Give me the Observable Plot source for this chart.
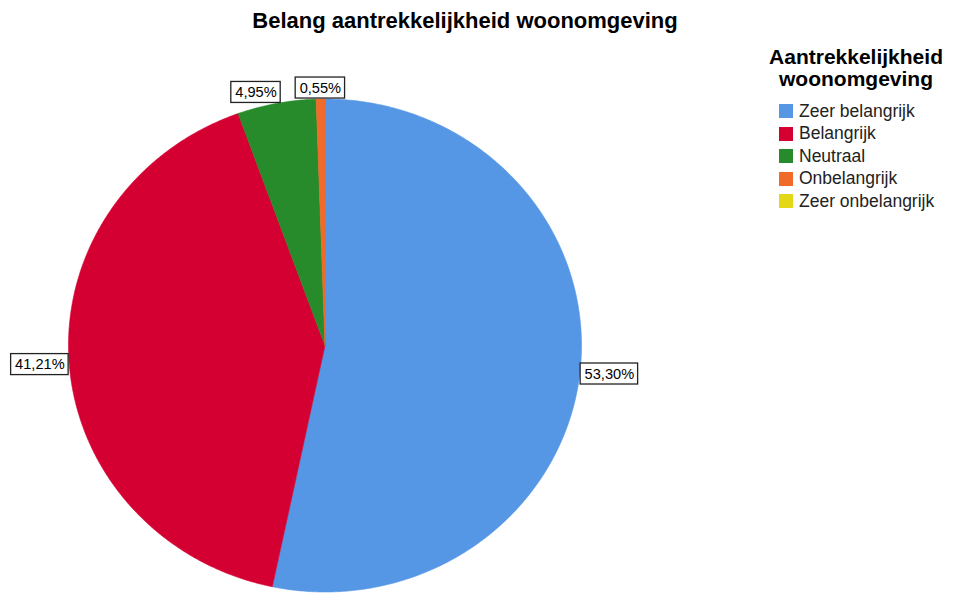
<!DOCTYPE html>
<html><head><meta charset="utf-8">
<script src="https://cdn.jsdelivr.net/npm/d3@7"></script>
<script src="https://cdn.jsdelivr.net/npm/@observablehq/plot@0.6"></script>
<style>
body{margin:0;background:#fff;font-family:"Liberation Sans",Arial,sans-serif;}
#wrap{position:relative;width:953px;height:594px;overflow:hidden;background:#fff;}
#wrap svg{position:absolute;left:0;top:0;}
#title{position:absolute;left:0;width:930px;top:9px;text-align:center;font-weight:bold;font-size:22px;line-height:24px;color:#000;}
#legtitle{position:absolute;left:756px;width:200px;top:46px;text-align:center;font-weight:bold;font-size:21px;line-height:21px;color:#000;}
#legtitle div{height:21px;line-height:21px;overflow:visible;}
#legtitle div + div{margin-top:1px;}
#legitems{position:absolute;left:779px;top:100px;}
.row{display:flex;align-items:center;height:22.5px;font-size:17.5px;color:#222;white-space:nowrap;}
.sw{width:14px;height:14px;margin-right:6px;flex-shrink:0;}
</style></head><body><div id="wrap"><div id="title"></div><div id="legtitle"></div><div id="legitems"></div></div><script>
const chartTitle = "Belang aantrekkelijkheid woonomgeving";
const legendTitle = ["Aantrekkelijkheid", "woonomgeving"];
const categories = ["Zeer belangrijk", "Belangrijk", "Neutraal", "Onbelangrijk", "Zeer onbelangrijk"];
const percentages = [53.30, 41.21, 4.95, 0.55, 0];
const colors = ["#5596e5", "#d50032", "#278a2b", "#f06a2a", "#e3d716"];

// layout of the pie (pixels)
const CX = 324.5, CY = 345, RX = 256.5, RY = 246.5;
const FONT = "'Liberation Sans', Arial, sans-serif";
const LFS = 14.6;
const total = d3.sum(percentages);

let cum = 0;
const slices = [];
categories.forEach((c, i) => {
  const v = percentages[i];
  const a0 = cum / total * 2 * Math.PI;
  cum += v;
  const a1 = cum / total * 2 * Math.PI;
  if (v > 0) slices.push({cat: c, value: v, a0, a1});
});

const pts = [];
for (const s of slices) {
  pts.push({cat: s.cat, x: 0, y: 0});
  const n = Math.max(2, Math.ceil((s.a1 - s.a0) / (Math.PI / 360)));
  for (let k = 0; k <= n; k++) {
    const a = s.a0 + (s.a1 - s.a0) * k / n;
    pts.push({cat: s.cat, x: Math.sin(a), y: Math.cos(a)});
  }
}

// labels
const ctx = document.createElement("canvas").getContext("2d");
ctx.font = LFS + "px " + FONT;
const fmt = v => v.toFixed(2).replace(".", ",") + "%";
const boxes = slices.map(s => {
  const a = (s.a0 + s.a1) / 2;
  const label = fmt(s.value);
  const w = ctx.measureText(label).width + 8, h = 21;
  const dx = Math.sin(a), dy = -Math.cos(a);
  const px = CX + RX * dx, py = CY + RY * dy;
  const t = Math.min(Math.abs(dx) > 1e-6 ? w / 2 / Math.abs(dx) : 1e9, Math.abs(dy) > 1e-6 ? h / 2 / Math.abs(dy) : 1e9) + 0.5;
  return {label, w, h, dirx: dx, cxp: px + dx * t, cyp: py + dy * t};
});
const placed = [];
for (let i = boxes.length - 1; i >= 0; i--) {
  const b = boxes[i];
  let moved = true, guard = 0;
  while (moved && guard++ < 10) {
    moved = false;
    for (const q of placed) {
      const ox = Math.abs(b.cxp - q.cxp) < (b.w + q.w) / 2;
      const oy = Math.abs(b.cyp - q.cyp) < (b.h + q.h) / 2;
      if (ox && oy) {
        if (b.dirx < 0) b.cxp = q.cxp - q.w / 2 - 15 - b.w / 2;
        else b.cxp = q.cxp + q.w / 2 + 15 + b.w / 2;
        moved = true;
      }
    }
  }
  placed.push(b);
}
const toX = p => (p - CX) / RX, toY = p => (CY - p) / RY;
const boxData = boxes.map(b => ({
  label: b.label,
  x: toX(b.cxp), y: toY(b.cyp),
  x1: toX(b.cxp - b.w / 2), x2: toX(b.cxp + b.w / 2),
  y1: toY(b.cyp - b.h / 2), y2: toY(b.cyp + b.h / 2)
}));

const chart = Plot.plot({
  width: 953, height: 594,
  marginTop: 0, marginRight: 0, marginBottom: 0, marginLeft: 0,
  style: {background: "transparent", overflow: "visible", fontFamily: FONT},
  x: {domain: [-1, 1], range: [CX - RX, CX + RX], axis: null},
  y: {domain: [-1, 1], range: [CY + RY, CY - RY], axis: null},
  color: {domain: categories, range: colors},
  marks: [
    Plot.line(pts, {x: "x", y: "y", z: "cat", fill: "cat", stroke: "cat", strokeWidth: 0.6, curve: "linear-closed"}),
    Plot.rect(boxData, {x1: "x1", x2: "x2", y1: "y1", y2: "y2", fill: "white", stroke: "#222", strokeWidth: 1.3, inset: 0}),
    Plot.text(boxData, {x: "x", y: "y", text: "label", fontSize: LFS, fill: "#000", textAnchor: "middle", fontFamily: FONT})
  ]
});
const wrap = document.getElementById("wrap");
wrap.insertBefore(chart, wrap.firstChild);

document.getElementById("title").textContent = chartTitle;
d3.select("#legtitle").selectAll("div").data(legendTitle).join("div").text(d => d);
const cs = chart.scale("color");
const items = d3.select("#legitems").selectAll("div").data(cs.domain).join("div").attr("class", "row");
items.append("div").attr("class", "sw").style("background", (d, i) => cs.range[i]);
items.append("span").text(d => d);
</script></body></html>
